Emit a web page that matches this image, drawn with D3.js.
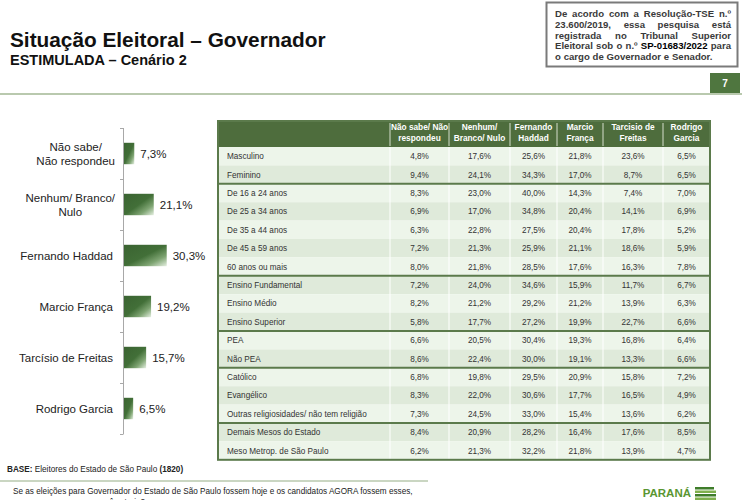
<!DOCTYPE html>
<html><head><meta charset="utf-8">
<script src="https://cdn.jsdelivr.net/npm/d3@7"></script>
<style>
html,body{margin:0;padding:0;background:#fff;}
svg{display:block;font-family:"Liberation Sans",Arial,sans-serif;}
</style></head>
<body><svg id="c" width="748" height="500"></svg>
<script>
// ---- data ----
const categories = ["Não sabe/ Não respondeu","Nenhum/ Branco/ Nulo","Fernando Haddad","Marcio França","Tarcísio de Freitas","Rodrigo Garcia"];
const categoryLines = [["Não sabe/","Não respondeu"],["Nenhum/ Branco/","Nulo"],["Fernando Haddad"],["Marcio França"],["Tarcísio de Freitas"],["Rodrigo Garcia"]];
const values = [7.3,21.1,30.3,19.2,15.7,6.5];

const columnHeaders = [["Não sabe/ Não","respondeu"],["Nenhum/","Branco/ Nulo"],["Fernando","Haddad"],["Marcio","França"],["Tarcisio de","Freitas"],["Rodrigo","Garcia"]];
const rowLabels = ["Masculino","Feminino","De 16 a 24 anos","De 25 a 34 anos","De 35 a 44 anos","De 45 a 59 anos","60 anos ou mais","Ensino Fundamental","Ensino Médio","Ensino Superior","PEA","Não PEA","Católico","Evangélico","Outras religiosidades/ não tem religião","Demais Mesos do Estado","Meso Metrop. de São Paulo"];
const rowGroup = [0,0,1,1,1,1,1,2,2,2,3,3,4,4,4,5,5];
const naoSabe  = [4.8,9.4,8.3,6.9,6.3,7.2,8.0,7.2,8.2,5.8,6.6,8.6,6.8,8.3,7.3,8.4,6.2];
const nenhum   = [17.6,24.1,23.0,17.0,22.8,21.3,21.8,24.0,21.2,17.7,20.5,22.4,19.8,22.0,24.5,20.9,21.3];
const haddad   = [25.6,34.3,40.0,34.8,27.5,25.9,28.5,34.6,29.2,27.2,30.4,30.0,29.5,30.6,33.0,28.2,32.2];
const franca   = [21.8,17.0,14.3,20.4,20.4,21.1,17.6,15.9,21.2,19.9,19.3,19.1,20.9,17.7,15.4,16.4,21.8];
const tarcisio = [23.6,8.7,7.4,14.1,17.8,18.6,16.3,11.7,13.9,22.7,16.8,13.3,15.8,16.5,13.6,17.6,13.9];
const garcia   = [6.5,6.5,7.0,6.9,5.2,5.9,7.8,6.7,6.3,6.6,6.4,6.6,7.2,4.9,6.2,8.5,4.7];
const series = [naoSabe,nenhum,haddad,franca,tarcisio,garcia];

const title = "Situação Eleitoral – Governador";
const subtitle = "ESTIMULADA – Cenário 2";
const noticeLines = [
  ["De","acordo","com","a","Resolução-TSE","n.º"],
  ["23.600/2019,","essa","pesquisa","está"],
  ["registrada","no","Tribunal","Superior"],
  ["Eleitoral","sob","o","n.º","SP-01683/2022","para"],
  ["o","cargo","de","Governador","e","Senador."]
];
const pageNumber = "7";

// ---- drawing ----
const svg = d3.select("#c");
const fmt = v => d3.format(".1f")(v).replace(".", ",") + "%";
const lineGreen = "#b9c9ae";

// title
svg.append("text").attr("x",10).attr("y",47).attr("font-size",20.8).attr("font-weight","bold").attr("fill","#111").text(title);
svg.append("text").attr("x",10).attr("y",65).attr("font-size",14.5).attr("font-weight","bold").attr("fill","#111").text(subtitle);

// top separator
svg.append("line").attr("x1",0).attr("x2",742).attr("y1",94).attr("y2",94).attr("stroke",lineGreen).attr("stroke-width",2);
// page number box
svg.append("rect").attr("x",710).attr("y",73).attr("width",30).attr("height",20).attr("fill","#4f763f");
svg.append("text").attr("x",725).attr("y",87).attr("text-anchor","middle").attr("font-size",10).attr("font-weight","bold").attr("fill","#fff").text(pageNumber);

// notice box
svg.append("rect").attr("x",546.5).attr("y",2.5).attr("width",191).attr("height",64).attr("fill","#fff").attr("stroke","#7a7a7a").attr("stroke-width",2);
const nLeft = 555, nRight = 731;
noticeLines.forEach((words, li) => {
  const y = 17 + li * 10.8;
  const g = svg.append("g");
  const els = words.map(w => g.append("text").attr("y", y).attr("font-size", 9.6).attr("font-weight","bold")
      .attr("fill", w === "SP-01683/2022" ? "#000" : "#3a3a3a").text(w));
  const widths = els.map(e => e.node().getComputedTextLength());
  const total = d3.sum(widths);
  const last = li === noticeLines.length - 1;
  const gap = last ? 2.8 : (nRight - nLeft - total) / (words.length - 1);
  let x = nLeft;
  els.forEach((e, i) => { e.attr("x", x); x += widths[i] + gap; });
});

// ---- bar chart ----
const y = d3.scaleBand().domain(categories).range([128, 434]).paddingInner(0.58).paddingOuter(0.29);
const x = d3.scaleLinear().domain([0, 100]).range([124, 265]);

const defs = svg.append("defs");
const grad = defs.append("linearGradient").attr("id","barGrad").attr("x1","0").attr("y1","0").attr("x2","1").attr("y2","1");
grad.append("stop").attr("offset","0").attr("stop-color","#3a6331");
grad.append("stop").attr("offset","0.5").attr("stop-color","#426f38");
grad.append("stop").attr("offset","0.75").attr("stop-color","#7ea472");
grad.append("stop").attr("offset","1").attr("stop-color","#e6f0e2");

// axis line and ticks at band boundaries
const step = y.step();
const axisG = svg.append("g").attr("stroke","#a8a8a8").attr("stroke-width",1);
axisG.append("line").attr("x1",x(0)-0.5).attr("x2",x(0)-0.5).attr("y1",y.range()[0]).attr("y2",y.range()[1]);
d3.range(categories.length + 1).forEach(i => {
  const ty = Math.round(y.range()[0] + i * step) + 0.5;
  axisG.append("line").attr("x1",x(0)-4).attr("x2",x(0)-0.5).attr("y1",ty).attr("y2",ty);
});

svg.append("g").selectAll("rect").data(values).join("rect")
  .attr("x", x(0)).attr("y", (d,i) => y(categories[i]))
  .attr("width", d => x(d) - x(0)).attr("height", y.bandwidth())
  .attr("fill","url(#barGrad)");

svg.append("g").selectAll("text").data(values).join("text")
  .attr("x", d => x(d) + 6).attr("y", (d,i) => y(categories[i]) + y.bandwidth()/2 + 4)
  .attr("font-size", 11.5).attr("fill","#222").text(d => fmt(d));

// category labels
const labRight = 113;
categoryLines.forEach((lines, i) => {
  const cy = y(categories[i]) + y.bandwidth()/2;
  if (lines.length === 1) {
    svg.append("text").attr("x", labRight).attr("y", cy + 4).attr("text-anchor","end")
      .attr("font-size",11.5).attr("fill","#222").text(lines[0]);
  } else {
    const g = svg.append("g");
    const els = lines.map((t, k) => g.append("text").attr("y", cy + 4 + (k - (lines.length-1)/2) * 14)
      .attr("text-anchor","middle").attr("font-size",11.5).attr("fill","#222").text(t));
    const maxW = d3.max(els, e => e.node().getComputedTextLength());
    els.forEach(e => e.attr("x", labRight + 2 - maxW/2));
  }
});

// ---- table ----
const tLeft = 218, tTop = 121, headBottom = 147;
const colEdges = [218, 390, 449, 510, 557, 603, 663, 710];
const tRight = colEdges[colEdges.length-1];
const ry = d3.scaleBand().domain(d3.range(rowLabels.length)).range([headBottom, headBottom + rowLabels.length * 18.4]);
const tBottom = ry.range()[1];

// header
svg.append("rect").attr("x",tLeft).attr("y",tTop).attr("width",tRight-tLeft).attr("height",headBottom-tTop).attr("fill","#4e6d3d");
columnHeaders.forEach((lines, c) => {
  const cx = (colEdges[c+1] + colEdges[c+2]) / 2;
  lines.forEach((t, k) => {
    svg.append("text").attr("x", cx).attr("y", 130 + k * 11.3).attr("text-anchor","middle")
      .attr("font-size", 8.3).attr("font-weight","bold").attr("fill","#fff").text(t);
  });
});
for (let c = 1; c < colEdges.length - 1; c++) {
  svg.append("line").attr("x1", colEdges[c]).attr("x2", colEdges[c]).attr("y1", tTop + 2).attr("y2", headBottom - 1)
    .attr("stroke","#d5dfcd").attr("stroke-width",1);
}

// body rows
svg.append("g").selectAll("rect").data(rowLabels).join("rect")
  .attr("x", tLeft).attr("y", (d,i) => ry(i)).attr("width", tRight - tLeft).attr("height", ry.bandwidth())
  .attr("fill", (d,i) => i % 2 === 0 ? "#edf5ea" : "#dfeada");

// vertical separators in body
for (let c = 1; c < colEdges.length - 1; c++) {
  svg.append("line").attr("x1", colEdges[c]).attr("x2", colEdges[c]).attr("y1", headBottom).attr("y2", tBottom)
    .attr("stroke","#ffffff").attr("stroke-width",1.2).attr("opacity",0.85);
}

svg.append("g").selectAll("text").data(rowLabels).join("text")
  .attr("x", tLeft + 9).attr("y", (d,i) => ry(i) + ry.bandwidth()/2 + 3)
  .attr("font-size", 8.2).attr("fill","#333").text(d => d);

series.forEach((vals, c) => {
  const cx = (colEdges[c+1] + colEdges[c+2]) / 2;
  svg.append("g").selectAll("text").data(vals).join("text")
    .attr("x", cx).attr("y", (d,i) => ry(i) + ry.bandwidth()/2 + 3).attr("text-anchor","middle")
    .attr("font-size", 8.2).attr("fill","#333").text(d => fmt(d));
});

// group separators
rowGroup.forEach((g, i) => {
  if (i > 0 && rowGroup[i-1] !== g) {
    svg.append("line").attr("x1", tLeft).attr("x2", tRight).attr("y1", ry(i)).attr("y2", ry(i))
      .attr("stroke","#5b7a4b").attr("stroke-width",2);
  }
});

// outer border
svg.append("rect").attr("x", tLeft).attr("y", tTop).attr("width", tRight - tLeft).attr("height", tBottom - tTop)
  .attr("fill","none").attr("stroke","#5b7a4b").attr("stroke-width",2);

// ---- footer ----
const base = svg.append("text").attr("x",7).attr("y",472).attr("font-size",8.2).attr("fill","#222");
base.append("tspan").attr("font-weight","bold").text("BASE:");
base.append("tspan").text(" Eleitores do Estado de São Paulo ");
base.append("tspan").attr("font-weight","bold").text("(1820)");
svg.append("line").attr("x1",0).attr("x2",428).attr("y1",481).attr("y2",481).attr("stroke",lineGreen).attr("stroke-width",1.5);
svg.append("text").attr("x",13).attr("y",494).attr("font-size",8.2).attr("fill","#222")
  .text("Se as eleições para Governador do Estado de São Paulo fossem hoje e os candidatos AGORA fossem esses,");
svg.append("text").attr("x",60).attr("y",505).attr("font-size",8.2).attr("fill","#222").text("em quem você votaria?");

// logo
svg.append("text").attr("x",691).attr("y",497).attr("text-anchor","end").attr("font-size",11.5).attr("font-weight","bold")
  .attr("fill","#5a9632").text("PARANÁ");
svg.append("text").attr("x",691).attr("y",508.5).attr("text-anchor","end").attr("font-size",11).attr("font-weight","bold")
  .attr("fill","#5a9632").text("PESQUISAS");
d3.range(4).forEach(k => {
  svg.append("rect").attr("x",695).attr("y",487 + k*3.5).attr("width",21 - (k===0?2:0)).attr("height",2.5)
    .attr("fill", k % 2 ? "#7fb04d" : "#3f7d2a");
});
</script>
</body></html>
